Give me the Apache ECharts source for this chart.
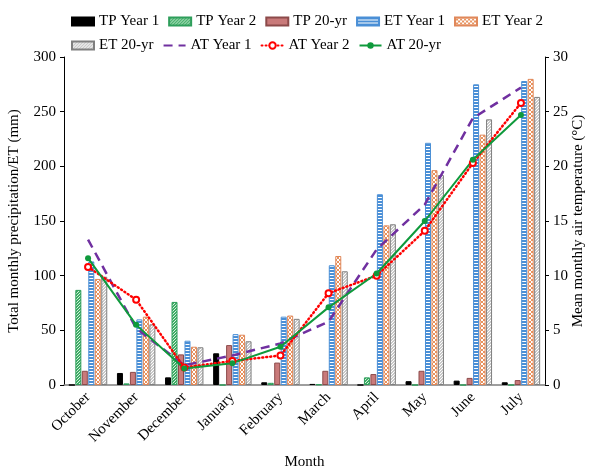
<!DOCTYPE html>
<html>
<head>
<meta charset="utf-8">
<script src="https://cdn.jsdelivr.net/npm/echarts@6/dist/echarts.min.js"></script>
<style>
  html, body { margin: 0; padding: 0; background: #fff; }
  #chart1 { width: 592px; height: 470px; }
</style>
</head>
<body>
<div id="chart1"></div>
<script>
var monthList = ['October', 'November', 'December', 'January', 'February', 'March', 'April', 'May', 'June', 'July'];
var tpYear1List = [0, 11, 7, 29, 2.5, 1, 0, 3.5, 4, 2.5];
var tpYear2List = [87, 1.5, 76, 0, 2, 0.5, 7, 0, 0, 0];
var tp20List = [13, 12, 28, 36.5, 20.5, 13, 10, 13, 6.5, 4.5];
var etYear1List = [113, 60, 40.5, 46.5, 62.5, 109.5, 174.5, 221.5, 275, 278];
var etYear2List = [97, 62.5, 35, 46, 63.5, 118, 146, 196.5, 229, 280];
var et20List = [99, 55.5, 34.5, 40, 60.5, 104, 147, 192, 243, 263.5];
var atYear1List = [13.3, 5.2, 1.8, 2.7, 3.8, 5.8, 12.4, 16.5, 24.4, 27.2];
var atYear2List = [10.8, 7.8, 1.6, 2.2, 2.7, 8.4, 10.0, 14.1, 20.3, 25.8];
var at20List = [11.6, 5.5, 1.5, 2.0, 3.5, 7.1, 10.2, 15.0, 20.6, 24.7];
var leftTicks = [0, 300, 50];
var rightTicks = [0, 30, 5];

var font = 'Liberation Serif';

// small canvas fills for the hatched bars
function makePattern(size, bg, fg, pixels) {
	var c = document.createElement('canvas');
	c.width = size;
	c.height = size;
	var ctx = c.getContext('2d');
	ctx.fillStyle = bg;
	ctx.fillRect(0, 0, size, size);
	ctx.fillStyle = fg;
	for (var i = 0; i < pixels.length; i++) {
		ctx.fillRect(pixels[i][0], pixels[i][1], 1, 1);
	}
	return { image: c, repeat: 'repeat' };
}

var greenDots = makePattern(3, '#3fae66', '#d8f0df', [[0, 0], [2, 1], [1, 2]]);
var blueLines = makePattern(3, '#ffffff', '#4a8fd6', [[0, 0], [1, 0], [2, 0], [0, 1], [1, 1], [2, 1]]);
var orangeCross = makePattern(4, '#ffffff', '#e8925e', [[0, 0], [1, 1], [2, 2], [3, 3], [3, 0], [2, 1], [1, 2], [0, 3]]);
var grayDots = makePattern(3, '#c9c9c9', '#ffffff', [[0, 0], [2, 1], [1, 2]]);

function barSeries(name, data, color, border) {
	return {
		name: name,
		type: 'bar',
		data: data,
		barWidth: 6,
		barGap: '8%',
		itemStyle: {
			color: color,
			borderColor: border,
			borderWidth: 1
		}
	};
}

var legendText = { fontFamily: font, fontSize: 15, color: '#000' };

var option = {
	animation: false,
	legend: [{
		left: 66,
		top: 9,
		itemWidth: 22,
		itemHeight: 8,
		itemGap: 9,
		icon: 'rect',
		textStyle: legendText,
		data: ['TP Year 1', 'TP Year 2', 'TP 20-yr', 'ET Year 1', 'ET Year 2']
	}, {
		left: 66,
		top: 33,
		itemWidth: 22,
		itemHeight: 8,
		itemGap: 9,
		textStyle: legendText,
		data: [
			{ name: 'ET 20-yr', icon: 'rect' },
			{ name: 'AT Year 1', itemStyle: { opacity: 0 } },
			'AT Year 2',
			'AT 20-yr'
		]
	}],
	grid: {
		left: 64,
		right: 47,
		top: 57,
		bottom: 85,
		outerBoundsMode: 'none'
	},
	xAxis: [{
		type: 'category',
		data: monthList,
		name: 'Month',
		nameLocation: 'middle',
		nameGap: 70,
		nameTextStyle: { fontFamily: font, fontSize: 15, color: '#000' },
		axisLine: { lineStyle: { color: '#7f7f7f', width: 1.5 } },
		axisTick: { show: false },
		axisLabel: {
			rotate: 45,
			margin: 10,
			fontFamily: font,
			fontSize: 15,
			color: '#000'
		}
	}],
	yAxis: [{
		type: 'value',
		min: leftTicks[0],
		max: leftTicks[1],
		interval: leftTicks[2],
		name: 'Total monthly precipitation/ET (mm)',
		nameLocation: 'middle',
		nameGap: 42,
		nameTextStyle: { fontFamily: font, fontSize: 15, color: '#000' },
		axisLine: { show: true, lineStyle: { color: '#000', width: 1 } },
		axisTick: { show: true, length: 4, lineStyle: { color: '#000' } },
		axisLabel: { fontFamily: font, fontSize: 15, color: '#000', margin: 8 },
		splitLine: { show: false }
	}, {
		type: 'value',
		position: 'right',
		min: rightTicks[0],
		max: rightTicks[1],
		interval: rightTicks[2],
		name: 'Mean monthly air temperature (°C)',
		nameLocation: 'middle',
		nameGap: 26,
		nameRotate: 90,
		nameMoveOverlap: false,
		nameTextStyle: { fontFamily: font, fontSize: 15, color: '#000' },
		axisLine: { show: true, lineStyle: { color: '#000', width: 1 } },
		axisTick: { show: true, length: 4, lineStyle: { color: '#000' } },
		axisLabel: { fontFamily: font, fontSize: 15, color: '#000', margin: 8 },
		splitLine: { show: false }
	}],
	series: [
		barSeries('TP Year 1', tpYear1List, '#000000', '#000000'),
		barSeries('TP Year 2', tpYear2List, greenDots, '#2e9e5b'),
		barSeries('TP 20-yr', tp20List, '#c97a7a', '#8c4a4a'),
		barSeries('ET Year 1', etYear1List, blueLines, '#4a8fd6'),
		barSeries('ET Year 2', etYear2List, orangeCross, '#e0885a'),
		barSeries('ET 20-yr', et20List, grayDots, '#7f7f7f'),
		{
			name: 'AT Year 1',
			type: 'line',
			yAxisIndex: 1,
			data: atYear1List,
			showSymbol: false,
			symbol: 'none',
			lineStyle: { color: '#7030a0', width: 2.5, type: [9, 6] },
			itemStyle: { color: '#7030a0' }
		},
		{
			name: 'AT Year 2',
			type: 'line',
			yAxisIndex: 1,
			data: atYear2List,
			symbol: 'emptyCircle',
			symbolSize: 6,
			lineStyle: { color: '#ff0000', width: 2.5, type: [1, 3], cap: 'round' },
			itemStyle: { color: '#ff0000', borderColor: '#ff0000', borderWidth: 1 }
		},
		{
			name: 'AT 20-yr',
			type: 'line',
			yAxisIndex: 1,
			data: at20List,
			symbol: 'circle',
			symbolSize: 6,
			lineStyle: { color: '#0f9a3c', width: 2 },
			itemStyle: { color: '#0f9a3c' }
		}
	]
};

var chart1 = echarts.init(document.getElementById('chart1'));
chart1.setOption(option);
</script>
</body>
</html>
